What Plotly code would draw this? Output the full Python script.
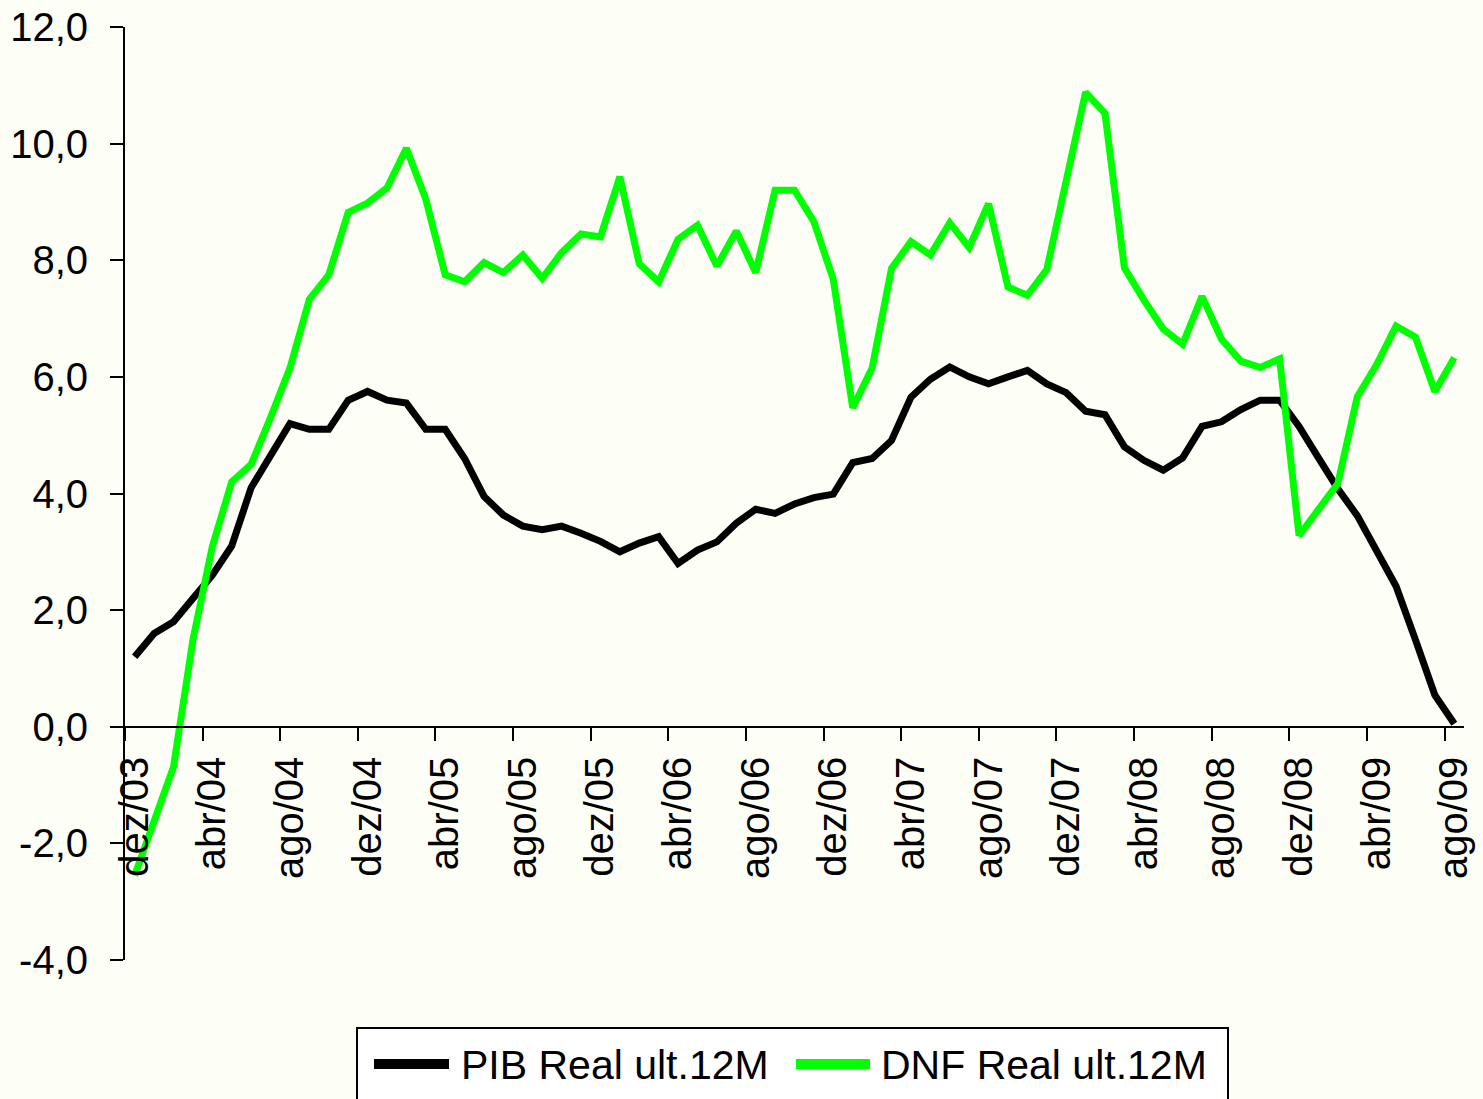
import plotly.graph_objects as go

month_names = ["jan", "fev", "mar", "abr", "mai", "jun", "jul", "ago", "set", "out", "nov", "dez"]
# monthly categories dez/03 .. ago/09
categories = ["dez/03"] + [f"{m}/{y:02d}" for y in range(4, 10) for m in month_names][:68]

pib_real = [1.2, 1.6, 1.8, 2.2, 2.6, 3.1, 4.1, 4.65, 5.2, 5.1,
            5.1, 5.6, 5.75, 5.6, 5.55, 5.1, 5.1, 4.6, 3.95, 3.63,
            3.44, 3.38, 3.44, 3.32, 3.18, 3.0, 3.15, 3.26, 2.8, 3.03,
            3.17, 3.49, 3.73, 3.66, 3.82, 3.93, 3.99, 4.53, 4.6, 4.91,
            5.65, 5.96, 6.17, 6.0, 5.88, 6.0, 6.11, 5.88, 5.73, 5.41,
            5.35, 4.8, 4.57, 4.4, 4.61, 5.15, 5.23, 5.44, 5.6, 5.6,
            5.15, 4.61, 4.08, 3.62, 3.0, 2.41, 1.49, 0.54, 0.05]

dnf_real = [-2.55, -1.6, -0.69, 1.49, 3.09, 4.2, 4.5, 5.3, 6.15, 7.33,
            7.75, 8.82, 8.98, 9.24, 9.92, 9.05, 7.75, 7.63, 7.96, 7.79,
            8.09, 7.69, 8.13, 8.45, 8.4, 9.43, 7.94, 7.63, 8.36, 8.6,
            7.9, 8.5, 7.79, 9.2, 9.2, 8.66, 7.67, 5.47, 6.15, 7.86,
            8.32, 8.09, 8.64, 8.22, 8.97, 7.54, 7.4, 7.84, 9.31, 10.88,
            10.52, 7.87, 7.32, 6.82, 6.56, 7.38, 6.65, 6.27, 6.16, 6.31,
            3.28, 3.75, 4.17, 5.66, 6.21, 6.87, 6.68, 5.75, 6.33]

series_names = ["PIB Real ult.12M", "DNF Real ult.12M"]
series_colors = ["#000000", "#00ff00"]
y_ticks = [-4, -2, 0, 2, 4, 6, 8, 10, 12]
y_ticktext = [f"{v:.1f}".replace(".", ",") for v in y_ticks]

label_vals = categories[::4]
n = len(categories)
boundary_ticks = [k - 0.5 for k in range(0, n + 1, 4)]

FONT = "Liberation Sans, Arial, sans-serif"
BG = "#fdfef5"

W, H = 1483, 1099
L, R, T, B = 125, 19, 27, 139
PW, PH = W - L - R, H - T - B


def px(sx):
    return (sx - L) / PW


def py(sy):
    return (H - B - sy) / PH


fig = go.Figure()
for name, vals, col in zip(series_names, [pib_real, dnf_real], series_colors):
    fig.add_trace(go.Scatter(x=categories, y=vals, mode="lines", name=name,
                             line=dict(color=col, width=7), showlegend=False))
# helper trace for boundary tick axis
fig.add_trace(go.Scatter(x=[], y=[], xaxis="x2", showlegend=False, hoverinfo="skip"))

y_pos = (0 - (-4)) / (12 - (-4))

# legend (box, samples, labels)
shapes = [dict(type="rect", xref="paper", yref="paper", x0=px(357), x1=px(1228),
               y0=py(1028), y1=py(1140), line=dict(color="#000000", width=2),
               fillcolor="#ffffff", layer="above")]
annotations = []
leg_y = 1064
sample_x = [(374, 449), (796, 870)]
text_x = [459, 879]
for (x0, x1), tx, name, col in zip(sample_x, text_x, series_names, series_colors):
    shapes.append(dict(type="line", xref="paper", yref="paper", x0=px(x0), x1=px(x1),
                       y0=py(leg_y), y1=py(leg_y), line=dict(color=col, width=10),
                       layer="above"))
    annotations.append(dict(text=name, xref="paper", yref="paper", x=px(tx), y=py(leg_y + 1),
                            xanchor="left", yanchor="middle", showarrow=False,
                            font=dict(size=41, family=FONT, color="#000000")))

fig.update_layout(
    width=W, height=H,
    margin=dict(l=L, r=R, t=T, b=B, autoexpand=False),
    paper_bgcolor=BG, plot_bgcolor=BG,
    font=dict(family=FONT, color="#000000", size=40),
    showlegend=False,
    shapes=shapes, annotations=annotations,
    xaxis=dict(type="category", range=[-0.5, n - 0.5], anchor="free", position=y_pos,
               tickmode="array", tickvals=label_vals, ticktext=label_vals,
               tickangle=-90, ticks="outside", ticklen=13, tickcolor="rgba(0,0,0,0)",
               ticklabelstandoff=0, showgrid=False, showline=False, zeroline=False,
               tickfont=dict(size=40)),
    xaxis2=dict(type="linear", overlaying="x", range=[-0.5, n - 0.5], anchor="free",
                position=y_pos, tickmode="array", tickvals=boundary_ticks,
                ticks="outside", ticklen=13, tickwidth=2, tickcolor="#000000",
                showticklabels=False, showline=True, linecolor="#000000", linewidth=2,
                showgrid=False, zeroline=False),
    yaxis=dict(range=[-4, 12], tickmode="array", tickvals=y_ticks, ticktext=y_ticktext,
               ticks="outside", ticklen=13, tickwidth=2, tickcolor="#000000",
               showline=True, linecolor="#000000", linewidth=2, showgrid=False,
               zeroline=False, ticklabelstandoff=14, tickfont=dict(size=40)),
)

fig.write_html("out.html", config={"displayModeBar": False},
               post_script="document.body.style.margin='0';document.body.style.background='" + BG + "';")
